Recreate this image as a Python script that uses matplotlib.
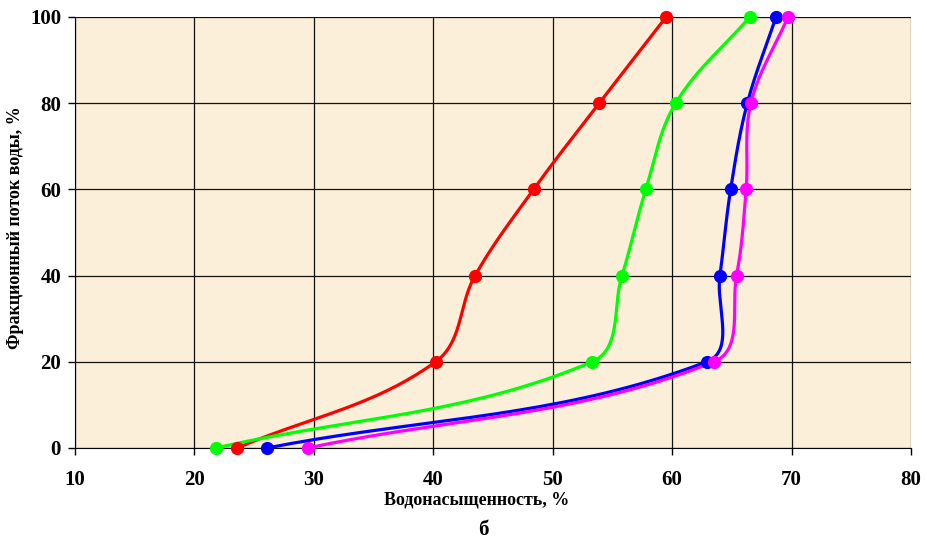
import numpy as np
import matplotlib.pyplot as plt

# fractional water flow vs water saturation
flow = [0, 20, 40, 60, 80, 100]
sw_red = [23.6, 40.2, 43.5, 48.4, 53.9, 59.5]
sw_green = [21.8, 53.3, 55.8, 57.8, 60.3, 66.5]
sw_blue = [26.1, 62.9, 64.0, 64.9, 66.3, 68.7]
sw_magenta = [29.5, 63.5, 65.4, 66.2, 66.6, 69.7]

series = [(sw_red, '#FF0000'), (sw_green, '#00FF00'),
          (sw_blue, '#0000FF'), (sw_magenta, '#FF00FF')]

plt.rcParams['font.family'] = ['Liberation Serif', 'DejaVu Serif']
plt.rcParams['font.weight'] = 'bold'

XS, YS = 11.94, 4.31  # px per data unit, so the smoothing works in screen space


def smooth(x, y, n=40, k=2.8):
    # bezier through the points with chord-scaled tangents (excel-like smoothed line)
    p = np.column_stack([np.asarray(x, float) * XS, np.asarray(y, float) * YS])
    m = len(p)
    d = np.zeros_like(p)
    for i in range(m):
        a = p[max(i - 1, 0)]
        b = p[min(i + 1, m - 1)]
        v = b - a
        d[i] = v / np.hypot(*v)
    t = np.linspace(0, 1, n)[:, None]
    pts = []
    for i in range(m - 1):
        L = np.hypot(*(p[i + 1] - p[i]))
        c1 = p[i] + d[i] * L / k
        c2 = p[i + 1] - d[i + 1] * L / k
        seg = ((1 - t) ** 3 * p[i] + 3 * (1 - t) ** 2 * t * c1
               + 3 * (1 - t) * t ** 2 * c2 + t ** 3 * p[i + 1])
        pts.append(seg)
    pts = np.vstack(pts)
    return pts[:, 0] / XS, pts[:, 1] / YS


fig = plt.figure(figsize=(9.27, 5.44), dpi=100)
ax = fig.add_axes([0.0809, 0.1765, 0.9018, 0.7923])
ax.set_facecolor('#FBEFD9')

for sw, c in series:
    sx, sy = smooth(sw, flow)
    ax.plot(sx, sy, color=c, lw=2.3, zorder=3, clip_on=False)
    ax.plot(sw, flow, 'o', color=c, ms=8.5, zorder=4, clip_on=False)

ax.set_xlim(10, 80)
ax.set_ylim(0, 100)
ax.set_xticks(range(10, 81, 10))
ax.set_yticks(range(0, 101, 20))
ax.grid(True, color='#111111', lw=0.9)
ax.set_axisbelow(True)
for s in ['top', 'right']:
    ax.spines[s].set_visible(False)
ax.tick_params(axis='both', direction='out', length=5, width=1,
               labelsize=15, pad=5)
ax.tick_params(axis='x', pad=11)

fig.text(477 / 927, 1 - 500 / 544, 'Водонасыщенность, %', fontsize=13,
         fontweight='bold', ha='center', va='center')
fig.text(16 / 927, 1 - 228 / 544, 'Фракционный поток воды, %', fontsize=13,
         fontweight='bold', ha='center', va='center', rotation=90)
fig.text(483 / 927, 1 - 530 / 544, 'б', fontsize=15, fontweight='bold',
         ha='center', va='center')

fig.savefig('out.png', dpi=100)
